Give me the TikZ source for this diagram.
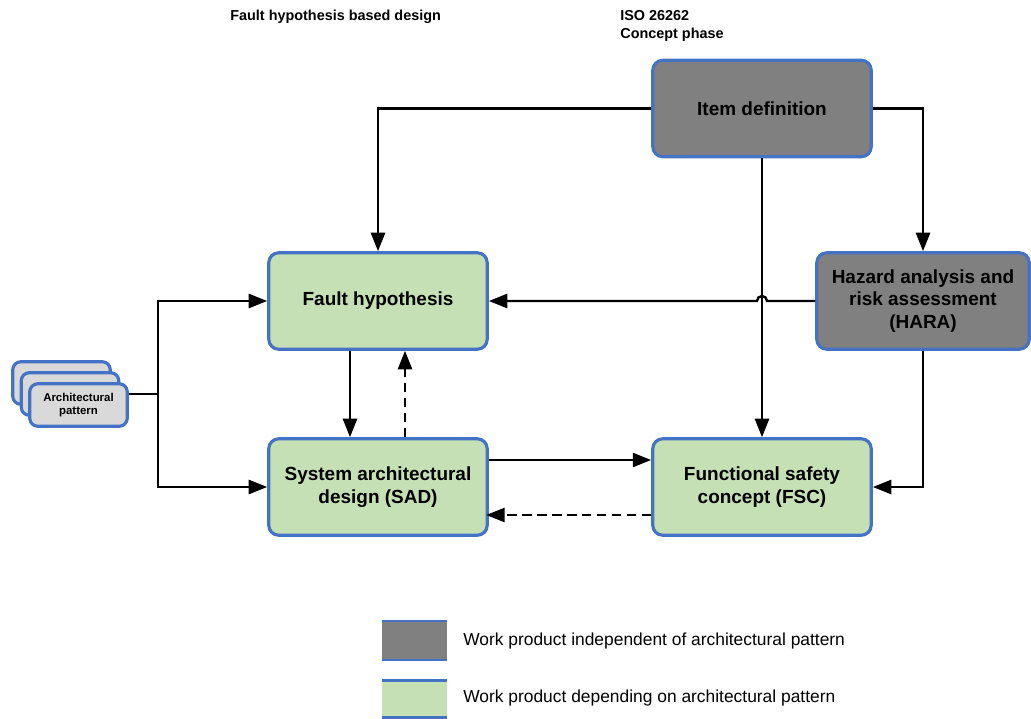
\documentclass[tikz,border=0pt]{standalone}
\usepackage{fontspec}
\setmainfont{Liberation Sans}
\usetikzlibrary{arrows.meta,calc}

\definecolor{boxblue}{HTML}{4472C4}
\definecolor{boxgray}{HTML}{808080}
\definecolor{boxgreen}{HTML}{C5E0B4}
\definecolor{stackgray}{HTML}{D9D9D9}

\tikzset{
  product/.style={draw=boxblue, line width=1.8pt, rounded corners=0.2cm,
    minimum width=4.37cm, minimum height=1.93cm, align=center,
    font=\fontsize{10.8}{13}\selectfont\bfseries},
  indep/.style={product, fill=boxgray},
  depend/.style={product, fill=boxgreen},
  patternbox/.style={draw=boxblue, line width=1.8pt, rounded corners=0.16cm,
    fill=stackgray, minimum width=1.95cm, minimum height=0.85cm, align=center,
    font=\fontsize{6.5}{7.4}\selectfont\bfseries},
  link/.style={line width=1.35pt},
  backlink/.style={link, dash pattern=on 5.5pt off 3pt},
  heading/.style={font=\fontsize{8.2}{10.2}\selectfont\bfseries, align=left, inner sep=0pt},
  legendtext/.style={font=\fontsize{9.9}{12}\selectfont, anchor=west, inner sep=0pt}
}

\begin{document}
\begin{tikzpicture}[x=0.02cm, y=0.02cm, >={Triangle[length=10.5pt,width=8pt]}]
  \useasboundingbox (0,0) rectangle (1031,718);

  % Headings
  \node[heading, anchor=west] (fhbd) at (230,701) {Fault hypothesis based design};
  \node[heading, anchor=west] (iso) at (620,692) {ISO 26262\\Concept phase};

  % Work products
  \node[indep] (itemdef) at (762,609.5) {Item definition};
  \node[indep, minimum width=4.25cm] (hara) at (923,417) {Hazard analysis and\\risk assessment\\(HARA)};
  \node[depend] (fh) at (378,417) {Fault hypothesis};
  \node[depend] (sad) at (378,231) {System architectural\\design (SAD)};
  \node[depend] (fsc) at (762,231) {Functional safety\\concept (FSC)};

  % Stack of architectural patterns
  \node[patternbox] (patback) at (61.5,335) {};
  \node[patternbox] (patmid) at (70,324) {};
  \node[patternbox] (pattern) at (78.5,313) {Architectural\\pattern};
  \coordinate (split) at (158,324);

  % Connections from item definition
  \draw[link, ->] (itemdef.west) -| (fh.north);
  \draw[link, ->] (itemdef.east) -| (hara.north);
  \draw[link, ->] (itemdef.south) -- (fsc.north);

  % HARA to fault hypothesis, hopping over the line above
  \coordinate (hop) at (itemdef.south |- hara.west);
  \draw[link, ->] (hara.west) -- ($(hop)+(5,0)$) arc[start angle=0, end angle=180, radius=0.1cm] -- (fh.east);
  \draw[link, ->] (hara.south) |- (fsc.east);

  % Between fault hypothesis, SAD and FSC
  \draw[link, ->] ($(fh.south)+(-28,0)$) -- ($(sad.north)+(-28,0)$);
  \draw[backlink, ->] ($(sad.north)+(27,0)$) -- ($(fh.south)+(27,0)$);
  \draw[link, ->] ($(sad.east)+(0,27)$) -- ($(fsc.west)+(0,27)$);
  \draw[backlink, ->] ($(fsc.west)+(0,-28)$) -- ($(sad.west)+(219,-28)$);

  % Architectural pattern inputs
  \draw[link] (pattern.east |- patmid) -- (split);
  \draw[link, ->] (split) |- (fh.west);
  \draw[link, ->] (split) |- (sad.west);

  % Legend
  \fill[boxgray] (382,57) rectangle (447,98);
  \draw[boxblue, line width=1.7pt] (382,97) -- (447,97) (382,58) -- (447,58);
  \fill[boxgreen] (382,0) rectangle (447,39);
  \draw[boxblue, line width=1.7pt] (382,38) -- (447,38) (382,1) -- (447,1);
  \node[legendtext] (indeplabel) at (463,77) {Work product independent of architectural pattern};
  \node[legendtext] (dependlabel) at (463,20) {Work product depending on architectural pattern};
\end{tikzpicture}
\end{document}
